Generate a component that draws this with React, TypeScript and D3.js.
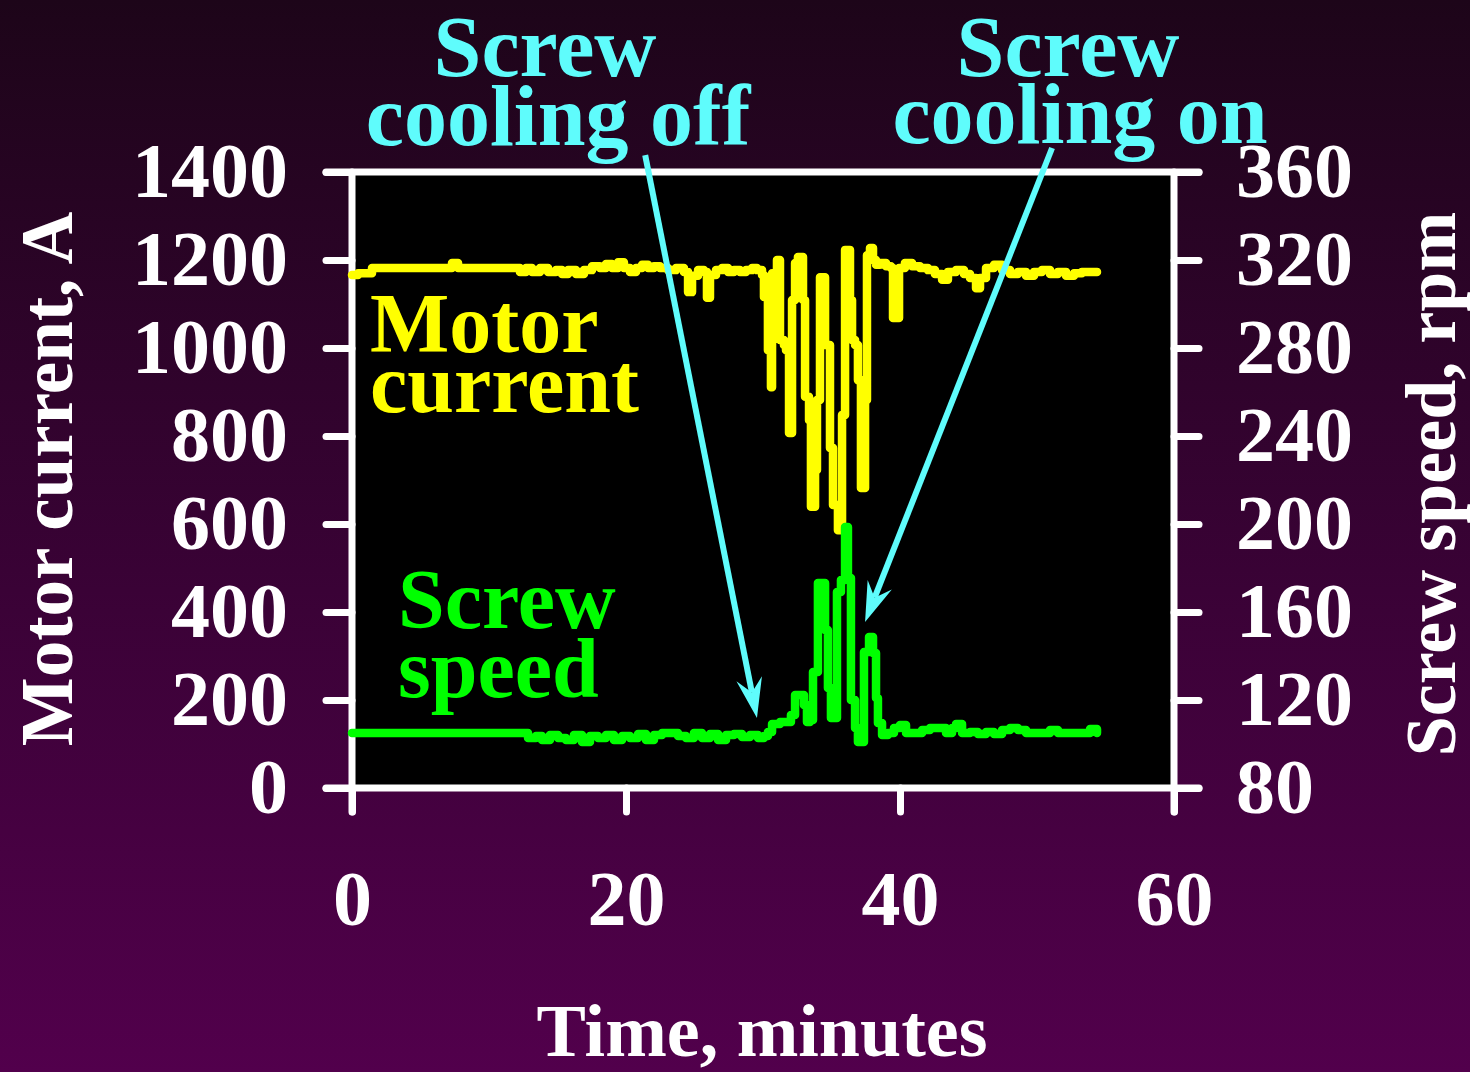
import { useEffect, useRef } from "react";
import * as d3 from "d3";

// motor current trace (minutes, A)
const currentTime = [
  0, 0.44, 1.46, 6.79, 7.3, 7.74, 11.9, 12.26, 12.7, 13.14, 13.72, 14.31, 14.89, 15.33, 15.77,
  16.35, 16.93, 17.52, 18.1, 18.54, 18.98, 19.42, 19.85, 20.29, 20.73, 21.17, 21.61, 22.04,
  22.48, 23.07, 23.65, 24.23, 24.53, 24.82, 25.26, 25.69, 25.91, 26.13, 26.57, 27.01, 27.45,
  27.88, 28.32, 28.76, 29.2, 29.56, 29.78, 29.93, 30.07, 30.29, 30.36, 30.51, 30.58, 30.66,
  30.88, 31.02, 31.17, 31.24, 31.53, 31.68, 31.9, 32.04, 32.12, 32.34, 32.55, 32.7, 32.92,
  33.07, 33.21, 33.36, 33.5, 33.65, 33.8, 33.94, 34.16, 34.38, 34.53, 34.74, 34.89, 35.04,
  35.11, 35.33, 35.47, 35.62, 35.77, 35.99, 36.2, 36.35, 36.5, 36.72, 36.93, 37.15, 37.3,
  37.45, 37.59, 37.81, 38.03, 38.25, 38.54, 38.98, 39.34, 39.49, 39.78, 39.93, 40.36, 40.88,
  41.46, 42.04, 42.55, 43.07, 43.5, 44.09, 44.67, 45.11, 45.55, 45.84, 46.28, 46.86, 47.45,
  48.03, 48.61, 49.2, 49.78, 50.36, 50.95, 51.53, 52.12, 52.7, 53.28, 53.87, 54.38,
];
const currentAmps = [
  1166, 1170, 1182, 1182, 1193, 1182, 1182, 1173, 1182, 1173, 1182, 1173, 1177, 1168, 1177,
  1168, 1177, 1186, 1182, 1191, 1182, 1195, 1182, 1173, 1182, 1189, 1182, 1186,
  1182, 1177, 1182, 1173, 1127, 1164, 1177, 1173, 1114, 1166, 1177, 1182, 1173,
  1177, 1173, 1177, 1182, 1177, 1177, 1166, 1116, 1116, 995, 995, 911, 1170,
  1170, 1200, 1200, 1018, 1007, 995, 807, 807, 1109, 1193, 1207, 1207, 1109,
  889, 889, 836, 639, 639, 723, 882, 1161, 1161, 1007, 1007, 773, 773,
  643, 643, 586, 586, 848, 1223, 1223, 1109, 1018, 1007, 927, 682, 682,
  882, 1211, 1227, 1200, 1189, 1193, 1186, 1182, 1068, 1068, 1182, 1193, 1186,
  1182, 1177, 1168, 1155, 1173, 1177, 1168, 1159, 1136, 1159, 1182, 1189, 1177,
  1168, 1173, 1164, 1173, 1177, 1168, 1173, 1164, 1170, 1173, 1173, 1173,
];

// screw speed trace (minutes, rpm)
const speedTime = [
  0, 12.48, 12.85, 13.43, 13.87, 14.45, 15.04, 15.62, 16.2, 16.79, 17.37, 17.96, 18.54, 19.12,
  19.71, 20.29, 20.88, 21.46, 22.04, 22.63, 23.21, 23.8, 24.38, 24.96, 25.55, 26.13, 26.72,
  27.3, 27.88, 28.47, 29.05, 29.64, 30.07, 30.36, 30.66, 31.24, 31.75, 32.04, 32.34, 32.7,
  32.99, 33.21, 33.43, 33.65, 34.01, 34.31, 34.53, 34.74, 34.96, 35.18, 35.4, 35.69, 35.99,
  36.2, 36.42, 36.72, 36.93, 37.15, 37.37, 37.59, 37.74, 37.88, 38.03, 38.25, 38.39, 38.69,
  39.12, 39.56, 40.0, 40.44, 41.02, 41.61, 42.19, 42.77, 43.36, 43.8, 44.09, 44.53, 45.11,
  45.69, 46.28, 46.86, 47.45, 48.03, 48.61, 49.2, 49.78, 50.36, 50.95, 51.53, 52.12, 52.7,
  53.28, 53.87, 54.38,
];
const speedRpm = [
  105, 105, 102.7, 103.6, 101.8, 104.1, 102.7, 101.8, 104.1, 100.9, 103.6, 102.7, 104.1, 101.8,
  103.6, 102.7, 104.5, 101.8, 104.1, 105, 105, 103.6, 102.7, 105, 102.7, 104.5, 101.8,
  104.1, 104.5, 103.2, 104.1, 102.7, 103.6, 105.5, 109.1, 110, 110, 113.2, 122.3, 122.3,
  117.7, 110, 110.9, 132.7, 173.2, 173.2, 151.8, 125.5, 111.8, 111.8, 169.1, 174.5, 198.6,
  175.5, 120, 107.3, 100.9, 100.9, 141.8, 141.8, 148.6, 148.6, 141.4, 120.9, 109.5, 104.1,
  105, 107.3, 108.6, 105, 105, 106.4, 107.3, 107.3, 105, 107.3, 109.1, 105, 105.5,
  104.5, 105.5, 104.5, 106.4, 107.3, 106.4, 105, 105, 105, 106.4, 105, 105, 105,
  105, 106.8, 105,
];

const currentTicks = [0, 200, 400, 600, 800, 1000, 1200, 1400];
const speedTicks = [80, 120, 160, 200, 240, 280, 320, 360];
const timeTicks = [0, 20, 40, 60];

// annotation arrows: [start minutes, start rpm, tip minutes, tip rpm]
const arrowOff = [21.4, 367.7, 29.56, 111.8];
const arrowOn = [51.1, 370.9, 37.45, 155.5];

const FONT = "'Liberation Serif', 'Times New Roman', serif";
const CYAN = "#5ffcfc";

function App() {
  const ref = useRef(null);

  useEffect(() => {
    const width = 1470;
    const height = 1072;
    const margin = { top: 172, right: 296, bottom: 284, left: 352 };

    const svg = d3.select(ref.current);
    svg.selectAll("*").remove();

    const defs = svg.append("defs");
    const grad = defs
      .append("linearGradient")
      .attr("id", "bg")
      .attr("x1", 0)
      .attr("y1", 0)
      .attr("x2", 0)
      .attr("y2", 1);
    grad.append("stop").attr("offset", "0%").attr("stop-color", "#1d0519");
    grad.append("stop").attr("offset", "55%").attr("stop-color", "#3a0236");
    grad.append("stop").attr("offset", "100%").attr("stop-color", "#52004c");

    svg.append("rect").attr("width", width).attr("height", height).attr("fill", "url(#bg)");

    const x = d3.scaleLinear().domain([0, 60]).range([margin.left, width - margin.right]);
    const x0 = x(0);
    const x1 = x(60);
    const yL = d3.scaleLinear().domain([0, 1400]).range([height - margin.bottom, margin.top]);
    const yR = d3.scaleLinear().domain([80, 360]).range([height - margin.bottom, margin.top]);

    svg
      .append("rect")
      .attr("x", x0)
      .attr("y", yL(1400))
      .attr("width", x1 - x0)
      .attr("height", yL(0) - yL(1400))
      .attr("fill", "#000");

    const frame = svg
      .append("g")
      .attr("stroke", "#fff")
      .attr("stroke-width", 7)
      .attr("stroke-linecap", "round");
    frame.append("line").attr("x1", x0 - 26).attr("x2", x1 + 25).attr("y1", yL(1400)).attr("y2", yL(1400));
    frame.append("line").attr("x1", x0 - 26).attr("x2", x1 + 25).attr("y1", yL(0)).attr("y2", yL(0));
    frame.append("line").attr("x1", x0).attr("x2", x0).attr("y1", yL(1400)).attr("y2", yL(0) + 24);
    frame.append("line").attr("x1", x1).attr("x2", x1).attr("y1", yL(1400)).attr("y2", yL(0) + 24);

    const styleAxis = (g) => {
      g.select(".domain").remove();
      g.selectAll(".tick line")
        .attr("stroke", "#fff")
        .attr("stroke-width", 7)
        .attr("stroke-linecap", "round");
      g.selectAll(".tick text")
        .attr("fill", "#fff")
        .style("font-family", FONT)
        .style("font-weight", "bold")
        .style("font-size", "78px");
    };

    svg
      .append("g")
      .attr("transform", `translate(${x0},0)`)
      .call(d3.axisLeft(yL).tickValues(currentTicks).tickFormat(d3.format("d")).tickSize(26).tickPadding(38))
      .call(styleAxis);

    svg
      .append("g")
      .attr("transform", `translate(${x1},0)`)
      .call(d3.axisRight(yR).tickValues(speedTicks).tickFormat(d3.format("d")).tickSize(25).tickPadding(37))
      .call(styleAxis);

    svg
      .append("g")
      .attr("transform", `translate(0,${yL(0)})`)
      .call(d3.axisBottom(x).tickValues(timeTicks).tickFormat(d3.format("d")).tickSize(24).tickPadding(58))
      .call(styleAxis);

    const current = currentTime.map((t, i) => [t, currentAmps[i]]);
    const speed = speedTime.map((t, i) => [t, speedRpm[i]]);

    svg
      .append("path")
      .datum(current)
      .attr("fill", "none")
      .attr("stroke", "#ffff00")
      .attr("stroke-width", 8.5)
      .attr("stroke-linejoin", "round")
      .attr("stroke-linecap", "round")
      .attr("d", d3.line().curve(d3.curveStepAfter).x((d) => x(d[0])).y((d) => yL(d[1])));

    svg
      .append("path")
      .datum(speed)
      .attr("fill", "none")
      .attr("stroke", "#00ff00")
      .attr("stroke-width", 8.5)
      .attr("stroke-linejoin", "round")
      .attr("stroke-linecap", "round")
      .attr("d", d3.line().curve(d3.curveStepAfter).x((d) => x(d[0])).y((d) => yR(d[1])));

    const text = (tx, ty, str, size, fill, anchor = "start", rotate = 0) =>
      svg
        .append("text")
        .attr("transform", `translate(${tx},${ty}) rotate(${rotate})`)
        .attr("text-anchor", anchor)
        .attr("fill", fill)
        .style("font-family", FONT)
        .style("font-weight", "bold")
        .style("font-size", `${size}px`)
        .text(str);

    text(370, 352, "Motor", 84, "#ffff00");
    text(370, 412, "current", 84, "#ffff00");
    text(398, 628, "Screw", 84, "#00ff00");
    text(398, 697, "speed", 84, "#00ff00");

    text(545, 76, "Screw", 86, CYAN, "middle");
    text(558, 145, "cooling off", 86, CYAN, "middle");
    text(1068, 76, "Screw", 86, CYAN, "middle");
    text(1080, 143, "cooling on", 86, CYAN, "middle");

    text(72, 479, "Motor current, A", 73, "#fff", "middle", -90);
    text(1455, 484, "Screw speed, rpm", 72, "#fff", "middle", -90);
    text(762, 1056, "Time, minutes", 74, "#fff", "middle");

    const arrow = (a) => {
      const sx = x(a[0]);
      const sy = yR(a[1]);
      const tx = x(a[2]);
      const ty = yR(a[3]);
      const len = Math.hypot(tx - sx, ty - sy);
      const ux = (tx - sx) / len;
      const uy = (ty - sy) / len;
      const px = -uy;
      const py = ux;
      const back = 40;
      const half = 13;
      const notch = 26;
      svg
        .append("line")
        .attr("x1", sx)
        .attr("y1", sy)
        .attr("x2", tx - ux * notch)
        .attr("y2", ty - uy * notch)
        .attr("stroke", CYAN)
        .attr("stroke-width", 6);
      const pts = [
        [tx, ty],
        [tx - ux * back + px * half, ty - uy * back + py * half],
        [tx - ux * notch, ty - uy * notch],
        [tx - ux * back - px * half, ty - uy * back - py * half],
      ];
      svg.append("path").attr("d", "M" + pts.join("L") + "Z").attr("fill", CYAN);
    };
    arrow(arrowOff);
    arrow(arrowOn);
  }, []);

  return (
    <svg
      ref={ref}
      width={1470}
      height={1072}
      style={{ position: "absolute", left: 0, top: 0, display: "block" }}
    />
  );
}

export default App;
